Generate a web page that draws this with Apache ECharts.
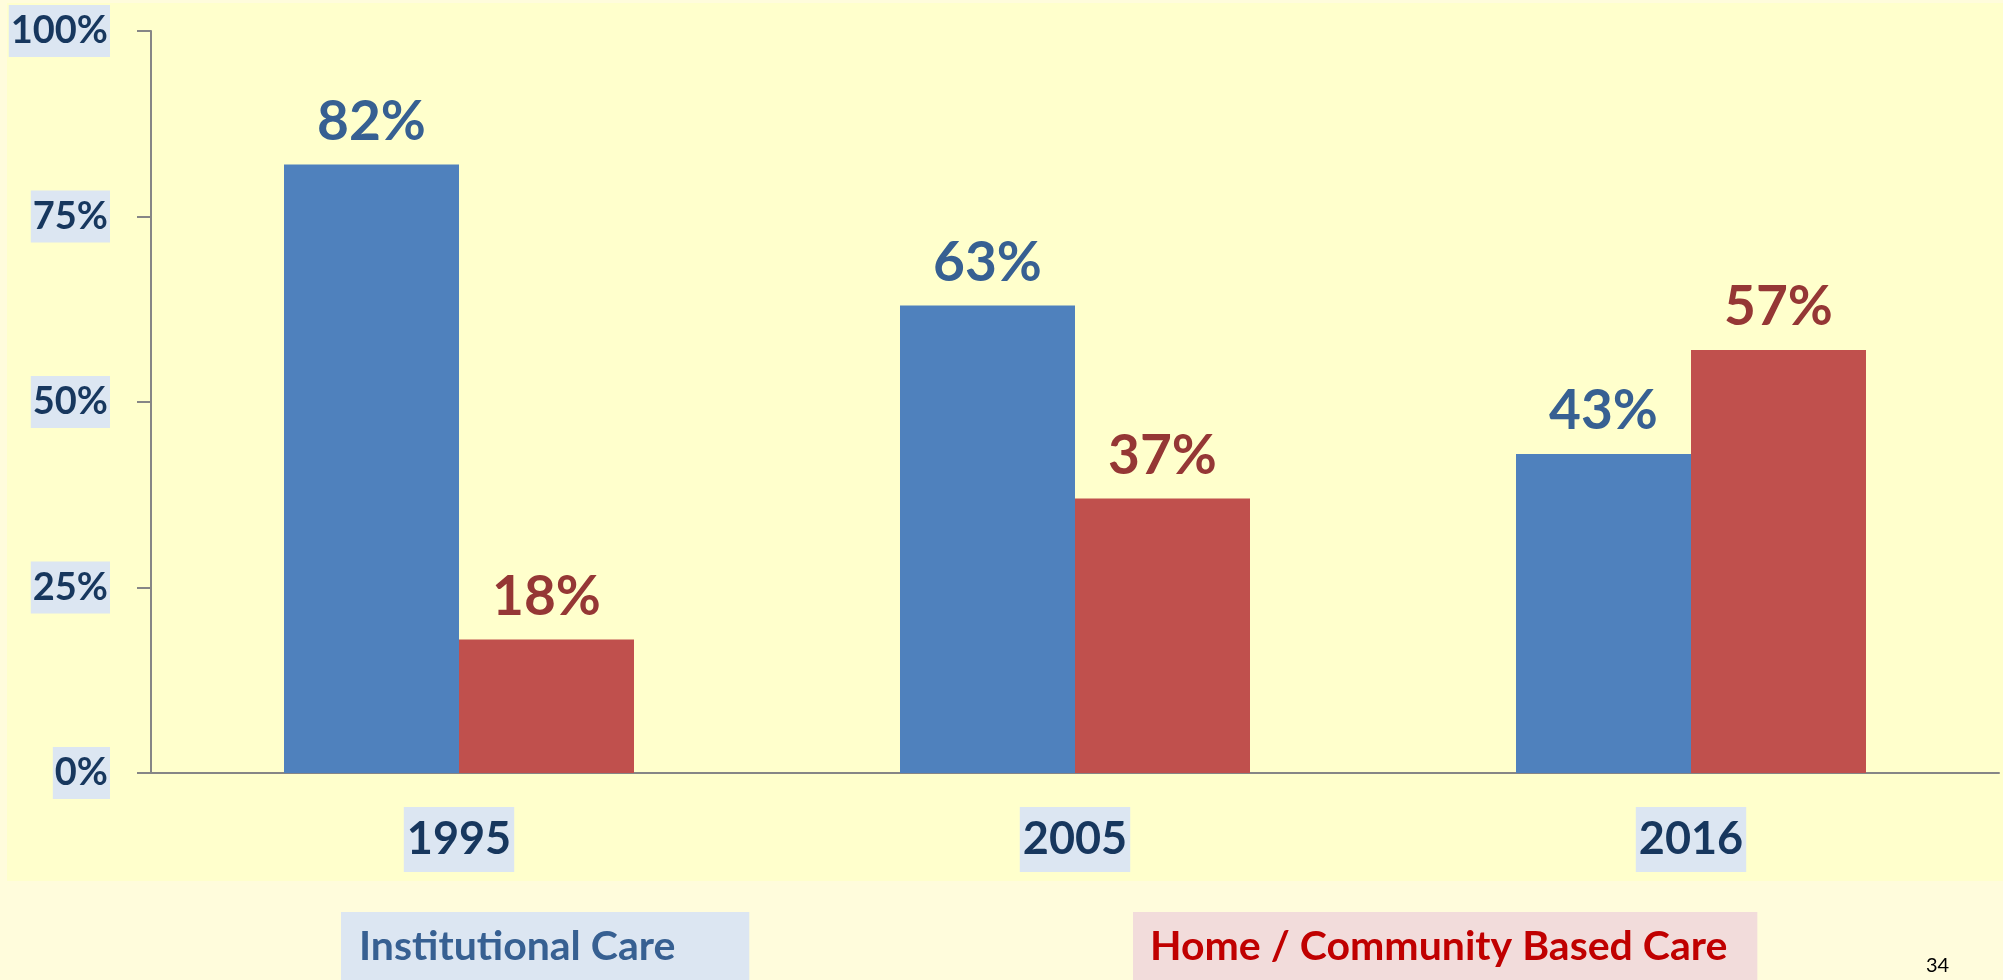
<!DOCTYPE html>
<html>
<head>
<meta charset="utf-8">
<script src="https://cdn.jsdelivr.net/npm/echarts@6/dist/echarts.min.js"></script>
<style>
  html, body { margin: 0; padding: 0; background: #FFFCDC; }
  #chart { width: 2003px; height: 980px; }
</style>
</head>
<body>
<div id="chart"></div>
<script>
// data
const years = ['1995', '2005', '2016'];
const institutional = [82, 63, 43];
const homeCommunity = [18, 37, 57];
const seriesNames = ['Institutional Care', 'Home / Community Based Care'];

const font = 'Lato';
const navy = '#17375E';

const mychart = echarts.init(document.getElementById('chart'));

const option = {
    backgroundColor: '#FFFCDC',
    textStyle: { fontFamily: font },
    animation: false,
    graphic: [
        {
            type: 'rect',
            z: -10,
            silent: true,
            shape: { x: 7, y: 3, width: 1996, height: 878 },
            style: { fill: '#FFFFCC' }
        },
        {
            type: 'text',
            left: 1926,
            top: 956,
            style: { text: '34', fill: '#000', font: '20px Lato' }
        }
    ],
    legend: [
        {
            data: [seriesNames[0]],
            left: 336,
            top: 912,
            icon: 'none',
            itemWidth: 0,
            itemGap: 0,
            padding: 0,
            selectedMode: false,
            textStyle: {
                color: '#376092',
                fontSize: 41,
                fontWeight: 'bold',
                fontFamily: font,
                lineHeight: 42,
                backgroundColor: '#DCE6F2',
                padding: [14, 74, 14, 18]
            }
        },
        {
            data: [seriesNames[1]],
            left: 1128,
            top: 912,
            icon: 'none',
            itemWidth: 0,
            itemGap: 0,
            padding: 0,
            selectedMode: false,
            textStyle: {
                color: '#C00000',
                fontSize: 41,
                fontWeight: 'bold',
                fontFamily: font,
                lineHeight: 42,
                backgroundColor: '#F2DCDB',
                padding: [14, 30, 14, 17]
            }
        }
    ],
    grid: {
        left: 151,
        right: 4,
        top: 31,
        bottom: 207,
        containLabel: false
    },
    xAxis: {
        type: 'category',
        data: years,
        axisLine: { lineStyle: { color: '#868686', width: 2 } },
        axisTick: { show: false },
        axisLabel: {
            margin: 34,
            color: navy,
            fontSize: 45,
            fontWeight: 'bold',
            fontFamily: font,
            lineHeight: 45,
            backgroundColor: '#DCE6F2',
            padding: [10, 3, 10, 3]
        }
    },
    yAxis: {
        type: 'value',
        min: 0,
        max: 100,
        interval: 25,
        splitLine: { show: false },
        axisLine: { show: true, lineStyle: { color: '#868686', width: 2 } },
        axisTick: { show: true, length: 14, lineStyle: { color: '#868686', width: 2 } },
        axisLabel: {
            formatter: '{value}%',
            margin: 41,
            color: navy,
            fontSize: 38,
            fontWeight: 'bold',
            fontFamily: font,
            lineHeight: 38,
            backgroundColor: '#DCE6F2',
            padding: [7, 2, 7, 2]
        }
    },
    series: [
        {
            name: seriesNames[0],
            type: 'bar',
            data: institutional,
            barWidth: 175,
            barGap: '0%',
            itemStyle: { color: '#4F81BD' },
            label: {
                show: true,
                position: 'top',
                distance: 15,
                formatter: '{c}%',
                color: '#376092',
                fontSize: 55,
                fontWeight: 'bold',
                fontFamily: font
            }
        },
        {
            name: seriesNames[1],
            type: 'bar',
            data: homeCommunity,
            barWidth: 175,
            barGap: '0%',
            itemStyle: { color: '#C0504D' },
            label: {
                show: true,
                position: 'top',
                distance: 15,
                formatter: '{c}%',
                color: '#953735',
                fontSize: 55,
                fontWeight: 'bold',
                fontFamily: font
            }
        }
    ]
};

mychart.setOption(option);
</script>
</body>
</html>
